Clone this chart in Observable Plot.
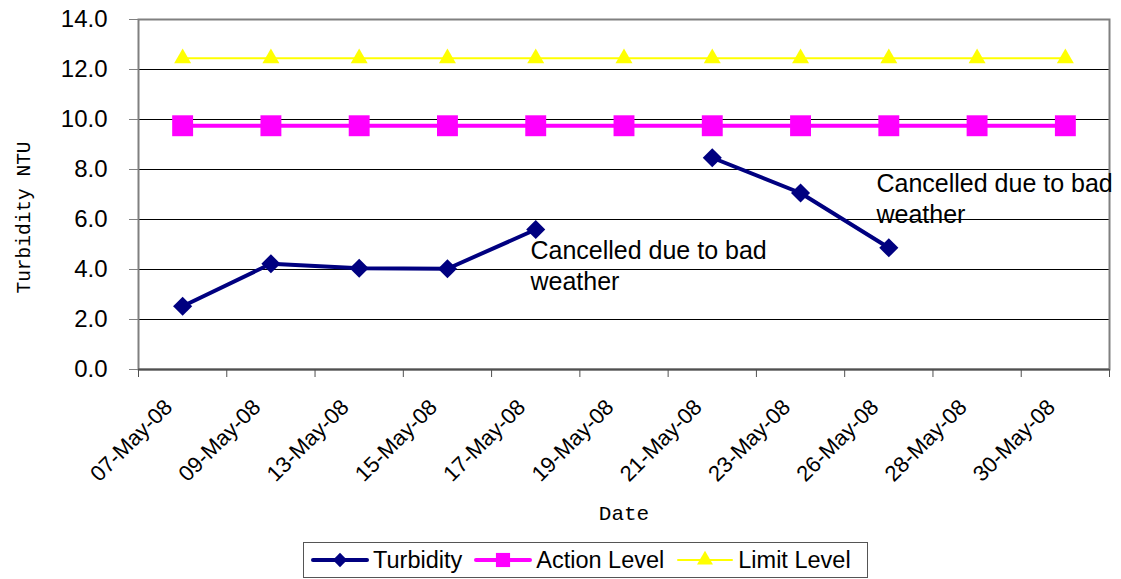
<!DOCTYPE html>
<html>
<head>
<meta charset="utf-8">
<script src="https://cdn.jsdelivr.net/npm/d3@7"></script>
<script src="https://cdn.jsdelivr.net/npm/@observablehq/plot@0.6"></script>
<style>
  body { margin: 0; background: white; font-family: "Liberation Sans", Arial, sans-serif; }
  #chart svg { display: block; }
  #legend {
    position: absolute; left: 303px; top: 542px; width: 556px; height: 34px;
    border: 1px solid #555; display: flex; align-items: center; box-sizing: content-box;
    font-size: 23.5px; color: black; padding-left: 7px;
  }
  #legend .item { display: flex; align-items: center; margin-right: 12px; }
  #legend svg { margin-right: 4px; }
</style>
</head>
<body>
<div id="chart"></div>
<div id="legend"></div>
<script>
const dates = ["07-May-08","09-May-08","13-May-08","15-May-08","17-May-08","19-May-08","21-May-08","23-May-08","26-May-08","28-May-08","30-May-08"];
const turbidity = [2.53, 4.23, 4.05, 4.03, 5.60, null, 8.47, 7.06, 4.87, null, null];
const actionLevel = [9.75, 9.75, 9.75, 9.75, 9.75, 9.75, 9.75, 9.75, 9.75, 9.75, 9.75];
const limitLevel = [12.45, 12.45, 12.45, 12.45, 12.45, 12.45, 12.45, 12.45, 12.45, 12.45, 12.45];
const yTicks = [0, 2, 4, 6, 8, 10, 12, 14];
const annotText = ["Cancelled due to bad\nweather", "Cancelled due to bad\nweather"];
const annotX = [3.94, 7.86];
const annotY = [5.3, 7.98];
const seriesNames = ["Turbidity", "Action Level", "Limit Level"];
const seriesColors = ["#000080", "#FF00FF", "#FFFF00"];

const rows = dates.map((d, i) => ({i, date: d, turbidity: turbidity[i], action: actionLevel[i], limit: limitLevel[i]}));
const annots = annotText.map((t, k) => ({x: annotX[k], y: annotY[k], text: t}));
const centers = dates.map((d, i) => i);
const boundaries = [...dates.map((d, i) => i - 0.5), dates.length - 0.5];

const chart = Plot.plot({
  width: 1121,
  height: 540,
  marginLeft: 138,
  marginRight: 12,
  marginTop: 19,
  marginBottom: 171,
  style: {fontFamily: "'Liberation Sans', Arial, sans-serif", background: "white", color: "black"},
  x: {type: "linear", domain: [-0.5, dates.length - 0.5]},
  y: {domain: [0, 14]},
  marks: [
    Plot.ruleY(yTicks.filter(v => v > 0 && v < 14), {stroke: "black", strokeWidth: 1}),
    Plot.frame({stroke: "#808080", strokeWidth: 2}),
    Plot.ruleY([0], {stroke: "#505050", strokeWidth: 2}),
    Plot.axisY({ticks: yTicks, tickFormat: d => d.toFixed(1), tickSize: 9, tickPadding: 22, fontSize: 24, stroke: "#808080", fill: "black", label: null}),
    Plot.axisX({ticks: boundaries, tickFormat: () => "", tickSize: 8, stroke: "#505050", label: null}),
    Plot.axisX({ticks: centers, tickFormat: i => dates[i], tickSize: 0, tickRotate: -45, tickPadding: 34, dx: -14, fontSize: 22, fill: "black", label: null}),
    Plot.line(rows, {x: "i", y: "limit", stroke: seriesColors[2], strokeWidth: 2}),
    Plot.dot(rows, {x: "i", y: "limit", symbol: "triangle", r: 6.3, fill: seriesColors[2]}),
    Plot.line(rows, {x: "i", y: "action", stroke: seriesColors[1], strokeWidth: 4}),
    Plot.dot(rows, {x: "i", y: "action", symbol: "square", r: 11.8, fill: seriesColors[1]}),
    Plot.line(rows, {x: "i", y: "turbidity", stroke: seriesColors[0], strokeWidth: 4}),
    Plot.dot(rows, {x: "i", y: "turbidity", symbol: "diamond2", r: 8.6, fill: seriesColors[0]}),
    Plot.text(annots, {x: "x", y: "y", text: "text", textAnchor: "start", lineAnchor: "top", fontSize: 25, lineHeight: 1.25, fill: "black"}),
    Plot.text(["Date"], {frameAnchor: "bottom", dy: 150, lineAnchor: "bottom", fontFamily: "'Liberation Mono', monospace", fontSize: 21, fill: "black"}),
    Plot.text(["Turbidity NTU"], {frameAnchor: "left", textAnchor: "middle", rotate: -90, dx: -115, dy: 23, fontFamily: "'Liberation Mono', monospace", fontSize: 19.5, fill: "black"})
  ]
});
document.getElementById("chart").append(chart);

// Legend
const symbols = ["diamond", "square", "triangle"];
const widths = [4, 4, 2];
const legend = d3.select("#legend");
seriesNames.forEach((name, k) => {
  const item = legend.append("div").attr("class", "item");
  const sw = item.append("svg").attr("width", 58).attr("height", 20);
  sw.append("line").attr("x1", 2).attr("x2", 56).attr("y1", 10).attr("y2", 10)
    .attr("stroke", seriesColors[k]).attr("stroke-width", widths[k]).attr("stroke-linecap", "round");
  const sym = symbols[k] === "diamond" ? d3.symbolDiamond2 : symbols[k] === "square" ? d3.symbolSquare : d3.symbolTriangle;
  const size = symbols[k] === "diamond" ? 130 : symbols[k] === "square" ? 200 : 110;
  sw.append("path").attr("d", d3.symbol(sym, size)()).attr("transform", "translate(29,10)").attr("fill", seriesColors[k]);
  item.append("span").text(name);
});
</script>
</body>
</html>
